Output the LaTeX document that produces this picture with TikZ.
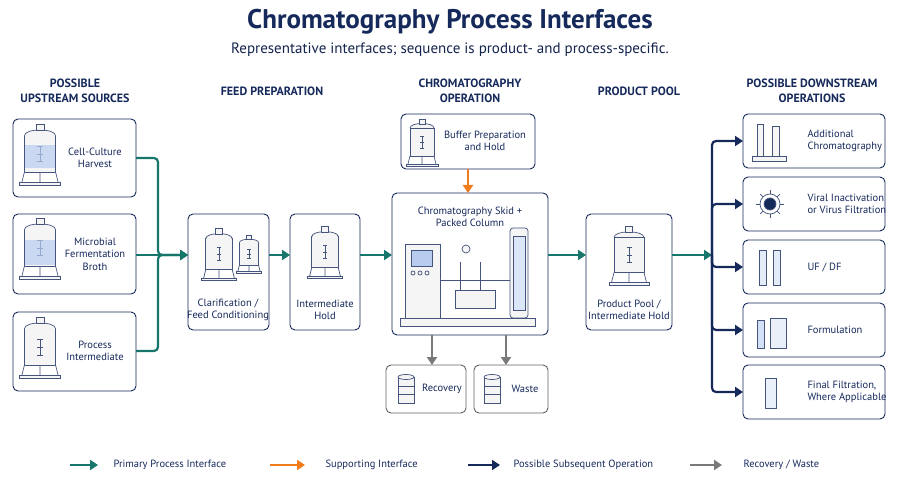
\documentclass[tikz,border=0pt]{standalone}
\usepackage{fontspec}
\setmainfont{PT Sans}
\usetikzlibrary{arrows.meta,positioning,calc}
\definecolor{navy}{HTML}{16295B}
\definecolor{teal}{HTML}{17766B}
\definecolor{orng}{HTML}{F07C1B}
\definecolor{grayw}{HTML}{7A7A7A}
\definecolor{liq}{HTML}{B8CCF0}
\begin{document}
\begin{tikzpicture}[x=1pt,y=-1pt]
    \tikzstyle{box}=[draw=navy,line width=0.9pt,rounded corners=5pt,fill=white]
    \tikzstyle{gbox}=[box,draw=grayw!80!black]
    \tikzstyle{lbl}=[text=navy,font=\fontsize{10.5}{12.5}\selectfont,align=center]
    \tikzstyle{head}=[text=navy,font=\bfseries\fontsize{12}{15}\selectfont,align=center]
    \tikzstyle{pedge}=[draw=teal,line width=2.2pt,-{Triangle[length=8pt,width=10pt]},rounded corners=4pt]
    \tikzstyle{sedge}=[pedge,draw=orng]
    \tikzstyle{dedge}=[pedge,draw=navy]
    \tikzstyle{wedge}=[pedge,draw=grayw]
    \tikzstyle{ic}=[draw=navy!80,line width=0.7pt,fill=gray!8]
    \newcommand{\tank}[3]{% center x, top y, scale
      \begin{scope}[shift={(#1,#2)},scale=#3]
        \draw[ic] (-12,6) rectangle (12,34);
        \draw[ic] (-12,6) .. controls (-12,0) and (12,0) .. (12,6);
        \draw[ic] (-3,-3) rectangle (3,2);
        \draw[ic] (-12,34) -- (-14,42) (12,34) -- (14,42) (0,34) -- (0,42);
        \draw[ic] (-16,42) rectangle (16,44);
        \draw[navy!80,line width=0.6pt] (0,14) -- (0,26) (-2,14) -- (2,14) (-2,20) -- (2,20) (-2,26) -- (2,26);
      \end{scope}}
    \newcommand{\drum}[2]{%
      \begin{scope}[shift={(#1,#2)}]
        \draw[ic] (-8,-13) rectangle (8,13);
        \draw[ic] (-8,-4) -- (8,-4) (-8,4) -- (8,4);
        \draw[ic] (0,-13) ellipse (8 and 2.5);
      \end{scope}}

    % title
    \node[text=navy,font=\bfseries\fontsize{27}{30}\selectfont] (title) at (450,22) {Chromatography Process Interfaces};
    \node[text=navy!85!black,font=\fontsize{15}{17}\selectfont] (sub) at (450,50) {Representative interfaces; sequence is product- and process-specific.};

    % headers
    \node[head] (h1) at (75,91) {POSSIBLE\\UPSTREAM SOURCES};
    \node[head] (h2) at (272,91) {FEED PREPARATION};
    \node[head] (h3) at (470,91) {CHROMATOGRAPHY\\OPERATION};
    \node[head] (h4) at (639,91) {PRODUCT POOL};
    \node[head] (h5) at (812,91) {POSSIBLE DOWNSTREAM\\OPERATIONS};

    % upstream
    \draw[box] (13,119) rectangle (136,197); \coordinate (u1) at (136,158);
    \draw[box] (13,214) rectangle (136,294); \coordinate (u2) at (136,255);
    \draw[box] (13,312) rectangle (136,391); \coordinate (u3) at (136,351);
    \tank{40}{128}{1.3}
    \fill[liq,opacity=0.7] (25,145) rectangle (55,168);
    \tank{40}{222}{1.3}
    \fill[liq,opacity=0.7] (25,240) rectangle (55,265);
    \tank{40}{321}{1.3}
    \node[lbl] at (95,158) {Cell-Culture\\Harvest};
    \node[lbl] at (95,254) {Microbial\\Fermentation\\Broth};
    \node[lbl] at (95,351) {Process\\Intermediate};

    % feed preparation
    \draw[box] (188,214) rectangle (269,330);
    \coordinate (f1w) at (188,255); \coordinate (f1e) at (269,255);
    \tank{219}{232}{1.1}
    \tank{249}{238}{0.8}
    \node[lbl] at (228,310) {Clarification /\\Feed Conditioning};
    \draw[box] (290,214) rectangle (360,330);
    \coordinate (f2w) at (290,255); \coordinate (f2e) at (360,255);
    \tank{325}{230}{1.1}
    \node[lbl] at (325,310) {Intermediate\\Hold};

    % chromatography
    \draw[box] (401,114) rectangle (535,169);
    \tank{422}{122}{1.0}
    \node[lbl] at (485,141) {Buffer Preparation\\and Hold};
    \coordinate (bufs) at (468,169);
    \draw[box] (392,193) rectangle (548,335);
    \coordinate (skn) at (468,193); \coordinate (skw) at (392,255); \coordinate (ske) at (548,255);
    \node[lbl] (skt) at (470,217) {Chromatography Skid +\\Packed Column};
    \draw[ic] (405,244) rectangle (440,318);
    \draw[ic,fill=liq] (411,250) rectangle (432,266);
    \foreach \i in {0,1,2} \draw[ic] (413+\i*7,273) circle (2);
    \draw[ic] (440,280) -- (510,280) (460,262) -- (460,300) (480,262) -- (480,300);
    \draw[ic] (455,290) rectangle (495,308);
    \draw[ic] (466,249) circle (4);
    \draw[ic,rounded corners=3pt] (510,228) rectangle (528,318);
    \draw[ic,fill=liq!50] (513,236) rectangle (525,310);
    \draw[ic] (400,318) rectangle (535,326);
    \draw[gbox] (386,365) rectangle (466,413);
    \drum{406}{390}
    \node[lbl] at (442,389) {Recovery};
    \coordinate (rn) at (432,365);
    \draw[gbox] (474,365) rectangle (548,413);
    \drum{492}{390}
    \node[lbl] at (525,389) {Waste};
    \coordinate (wn) at (506,365);
    \coordinate (skr) at (432,335); \coordinate (skwa) at (506,335);

    % product pool
    \draw[box] (586,214) rectangle (672,330);
    \coordinate (pw) at (586,255); \coordinate (pe) at (672,255);
    \tank{629}{230}{1.25}
    \node[lbl] at (629,310) {Product Pool /\\Intermediate Hold};

    % downstream
    \foreach \y/\t [count=\i] in {114/{Additional\\Chromatography},177/{Viral Inactivation\\or Virus Filtration},240/{UF / DF},303/{Formulation},365/{Final Filtration,\\Where Applicable}}{
      \draw[box] (743,\y) rectangle (885,\y+54);
      \coordinate (d\i) at (743,\y+27);
      \node[lbl,anchor=west,align=left] at (804,\y+27) {\t};
    }
    % downstream icons
    \draw[ic] (757,124) rectangle (763,158) (772,126) rectangle (779,158);
    \draw[ic] (752,156) rectangle (786,161);
    \draw[ic,fill=navy] (770,204) circle (6);
    \draw[ic,fill=none] (770,204) circle (10);
    \foreach \a in {0,45,...,315} \draw[ic] ($(770,204)+(\a:10)$) -- ($(770,204)+(\a:14)$);
    \draw[ic,fill=liq!40] (759,250) rectangle (766,285) (773,250) rectangle (780,285);
    \draw[ic,fill=liq!60] (757,320) rectangle (764,348);
    \draw[ic,fill=liq!30] (770,318) rectangle (786,348);
    \draw[ic,fill=liq!30] (765,378) rectangle (776,408);

    % connectors
    \draw[pedge] (u1) -- (158,158) -- (158,255) -- (f1w);
    \draw[pedge] (u3) -- (158,351) -- (158,255) -- (f1w);
    \draw[pedge] (u2) -- (f1w);
    \draw[pedge] (f1e) -- (f2w);
    \draw[pedge] (f2e) -- (skw);
    \draw[sedge] (bufs) -- (skn);
    \draw[wedge] (skr) -- (rn);
    \draw[wedge] (skwa) -- (wn);
    \draw[pedge] (ske) -- (pw);
    \draw[pedge] (pe) -- (712,255);
    \foreach \i in {1,...,5}
      \draw[dedge] (712,255) |- (d\i);

    % legend
    \coordinate (l1a) at (70,465); \coordinate (l1b) at (98,465);
    \draw[pedge] (l1a) -- (l1b);
    \node[lbl,anchor=west] at (110,465) {Primary Process Interface};
    \coordinate (l2a) at (270,465); \coordinate (l2b) at (305,465);
    \draw[sedge] (l2a) -- (l2b);
    \node[lbl,anchor=west] at (322,465) {Supporting Interface};
    \coordinate (l3a) at (468,465); \coordinate (l3b) at (500,465);
    \draw[dedge] (l3a) -- (l3b);
    \node[lbl,anchor=west] at (510,465) {Possible Subsequent Operation};
    \coordinate (l4a) at (690,465); \coordinate (l4b) at (722,465);
    \draw[wedge] (l4a) -- (l4b);
    \node[lbl,anchor=west] at (740,465) {Recovery / Waste};

    \useasboundingbox (0,0) rectangle (900,481);
\end{tikzpicture}
\end{document}
